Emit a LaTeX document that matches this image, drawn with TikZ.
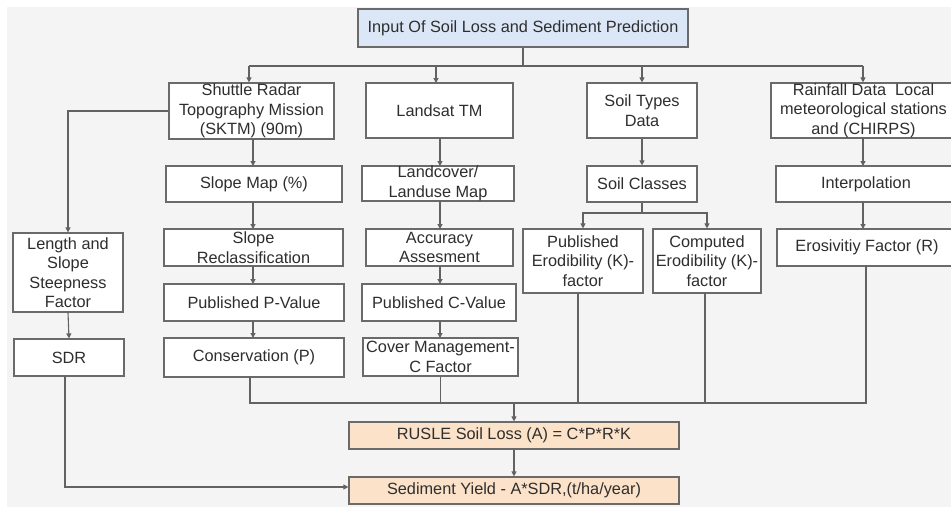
\documentclass[tikz,border=0pt]{standalone}
\usepackage{fontspec}
\setmainfont{Liberation Sans}
\usetikzlibrary{arrows.meta}
\definecolor{pagebg}{HTML}{F4F4F4}
\definecolor{boxline}{HTML}{6A6A6A}
\definecolor{wire}{HTML}{626262}
\definecolor{inktext}{HTML}{2E2E2E}
\definecolor{headfill}{HTML}{DBE7F6}
\definecolor{resultfill}{HTML}{FBE2C9}
\begin{document}
\begin{tikzpicture}[x=1pt,y=-1pt,
  box/.style={draw=boxline,line width=1.2pt,fill=white,inner sep=0pt,align=center,
    text=inktext,font=\fontsize{16.3}{19.5}\selectfont},
  head/.style={box,fill=headfill},
  result/.style={box,fill=resultfill},
  wireline/.style={draw=wire,line width=1.1pt},
  arr/.style={wireline,-{Triangle[length=5pt,width=5pt]}}]
\useasboundingbox (0,0) rectangle (951,507);
\fill[pagebg] (7,7) rectangle (951,507);

% top input box
\node[head,minimum width=330,minimum height=38] (top) at (523,28) {Input Of Soil Loss and Sediment Prediction};

% first row of data sources
\node[box,minimum width=165,minimum height=56] (srtm) at (251.5,111) {Shuttle Radar\\Topography Mission\\(SKTM) (90m)};
\node[box,minimum width=147,minimum height=55] (landsat) at (439.5,110.5) {Landsat TM};
\node[box,minimum width=110,minimum height=55] (soiltypes) at (642,110.5) {Soil Types\\Data};
\node[box,minimum width=185,minimum height=55] (rain) at (863.5,110.5) {Rainfall Data~~Local\\meteorological stations\\and (CHIRPS)};

% second row
\node[box,minimum width=176,minimum height=36] (slope) at (254,184) {Slope Map (\%)};
\node[box,minimum width=152,minimum height=35] (landcover) at (438,183.5) {Landcover/\\Landuse Map};
\node[box,minimum width=110,minimum height=36] (soilclasses) at (642,184) {Soil Classes};
\node[box,minimum width=180,minimum height=36] (interp) at (866,184) {Interpolation};

% third row
\node[box,minimum width=110,minimum height=79] (length) at (68,272.5) {Length and\\Slope\\Steepness\\Factor};
\node[box,minimum width=179,minimum height=37] (slopere) at (253.5,247.5) {Slope\\Reclassification};
\node[box,minimum width=147,minimum height=37] (accuracy) at (439.5,247.5) {Accuracy\\Assesment};
\node[box,minimum width=120,minimum height=64] (pubk) at (583,261) {Published\\Erodibility (K)-\\factor};
\node[box,minimum width=108,minimum height=64] (compk) at (707,261) {Computed\\Erodibility (K)-\\factor};
\node[box,minimum width=180,minimum height=37] (eros) at (867,247.5) {Erosivitiy Factor (R)};

% fourth row
\node[box,minimum width=180,minimum height=37] (pval) at (254,302.5) {Published P-Value};
\node[box,minimum width=154,minimum height=37] (cval) at (439,302.5) {Published C-Value};

% fifth row
\node[box,minimum width=110,minimum height=37] (sdr) at (69,357.5) {SDR};
\node[box,minimum width=180,minimum height=39] (cons) at (254,357.5) {Conservation (P)};
\node[box,minimum width=155,minimum height=38] (cover) at (440.5,357) {Cover Management-\\C Factor};

% results
\node[result,minimum width=330,minimum height=27] (rusle) at (514,435.5) {RUSLE Soil Loss (A) = C*P*R*K};
\node[result,minimum width=330,minimum height=27] (sed) at (514,490.5) {Sediment Yield - A*SDR,(t/ha/year)};

% distribution bus below the input box
\draw[wireline] (top.south) -- (523,66) coordinate (bus);
\draw[wireline] (249,66) coordinate (busl) -- (863,66) coordinate (busr);
\draw[arr] (busl) -- (busl |- srtm.north);
\draw[arr] (436,66) -- (436,83);
\draw[arr] (soiltypes.north |- bus) -- (soiltypes.north);
\draw[arr] (busr) -- (busr |- rain.north);

% vertical chains
\draw[arr] (253,139) -- (253,166);
\draw[arr] (srtm.west) -| (length.north);
\draw[arr] (440,138) -- (440,166);
\draw[arr] (soiltypes.south) -- (soilclasses.north);
\draw[arr] (863,138) -- (863,166);
\draw[arr] (863,202) -- (863,229);

\draw[arr] (253,202) -- (253,229);
\draw[arr] (253,266) -- (253,284);
\draw[arr] (253,321) -- (253,338);
\draw[arr] (length.south) -- (sdr.north);

\draw[arr] (440,201) -- (440,229);
\draw[arr] (440,266) -- (440,284);
\draw[arr] (440,321) -- (440,338);

% fork from soil classes
\draw[wireline] (soilclasses.south) -- (642,213) coordinate (fork);
\draw[arr] (fork) -| (pubk.north);
\draw[arr] (fork) -| (compk.north);

% collector bus into RUSLE
\draw[wireline] (250,377) -- (250,403) coordinate (coll) -- (866,403) coordinate (collr) -- (866,266);
\draw[wireline] (cover.south) -- (cover.south |- coll);
\draw[wireline] (578,293) -- (578,403);
\draw[wireline] (705,293) -- (705,403);
\draw[arr] (rusle.north |- coll) -- (rusle.north);
\draw[arr] (rusle.south) -- (sed.north);

% SDR feeds the sediment yield
\draw[arr] (65,376) -- (65,487) -- (sed.west |- 0,487);
\end{tikzpicture}
\end{document}
